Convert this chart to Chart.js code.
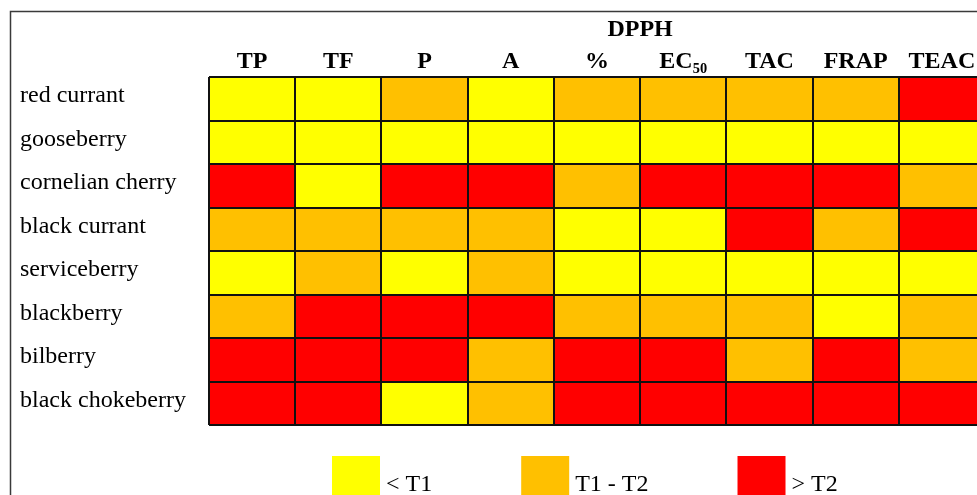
<!DOCTYPE html>
<html>
<head>
<meta charset="utf-8">
<title>Sample heatmap</title>
<script src="https://cdn.jsdelivr.net/npm/chart.js@4.4.1/dist/chart.umd.min.js"></script>
<style>
    html, body { margin: 0; padding: 0; background: #fff; overflow: hidden; }
    canvas { display: block; }
</style>
</head>
<body>
<canvas id="heatChart" width="1000" height="495"></canvas>
<script>
// samples (rows) and measured parameters (columns)
const samples = ['red currant', 'gooseberry', 'cornelian cherry', 'black currant',
    'serviceberry', 'blackberry', 'bilberry', 'black chokeberry'];
const measures = ['TP', 'TF', 'P', 'A', '%', 'EC\u2085\u2080', 'TAC', 'FRAP', 'TEAC'];

// 1 = < T1, 2 = T1 - T2, 3 = > T2
const levelRows = [
    [1, 1, 2, 1, 2, 2, 2, 2, 3], // red currant
    [1, 1, 1, 1, 1, 1, 1, 1, 1], // gooseberry
    [3, 1, 3, 3, 2, 3, 3, 3, 2], // cornelian cherry
    [2, 2, 2, 2, 1, 1, 3, 2, 3], // black currant
    [1, 2, 1, 2, 1, 1, 1, 1, 1], // serviceberry
    [2, 3, 3, 3, 2, 2, 2, 1, 2], // blackberry
    [3, 3, 3, 2, 3, 3, 2, 3, 2], // bilberry
    [3, 3, 1, 2, 3, 3, 3, 3, 3]  // black chokeberry
];
const legendLabels = ['< T1', 'T1 - T2', '> T2'];
const groupTitle = 'DPPH';       // spans the '%' and 'EC50' columns
const groupColumns = [4, 5];

const levelColors = ['#FFFF00', '#FFC000', '#FF0000'];
const serif = "'Liberation Serif', 'Times New Roman', serif";

// one floating-bar dataset per row, coloured cell by cell
const datasets = samples.map((name, r) => ({
    label: name,
    data: levelRows[r].map(() => [r, r + 1]),
    backgroundColor: levelRows[r].map(l => levelColors[l - 1]),
    borderWidth: 0,
    yAxisID: 'v',
    grouped: false,
    barPercentage: 1,
    categoryPercentage: 1
}));

// outer frame, group title and legend
const decor = {
    id: 'decor',
    beforeDraw(chart) {
        const ctx = chart.ctx;
        ctx.save();
        ctx.strokeStyle = '#3a3a3a';
        ctx.lineWidth = 1.5;
        ctx.strokeRect(10.5, 11.5, 1200, 600);
        ctx.restore();
    },
    afterDraw(chart) {
        const ctx = chart.ctx;
        const x = chart.scales.x;
        ctx.save();
        ctx.fillStyle = '#000';
        ctx.font = 'bold 24px ' + serif;
        ctx.textAlign = 'center';
        ctx.textBaseline = 'alphabetic';
        const gx = (x.getPixelForTick(groupColumns[0]) + x.getPixelForTick(groupColumns[1])) / 2;
        ctx.fillText(groupTitle, gx, 36);

        // legend
        ctx.font = '24px ' + serif;
        ctx.textAlign = 'left';
        let lx = 332;
        legendLabels.forEach((txt, i) => {
            ctx.fillStyle = levelColors[i];
            ctx.fillRect(lx, 456, 48, 50);
            ctx.fillStyle = '#000';
            ctx.fillText(txt, lx + 54, 491);
            lx += 54 + ctx.measureText(txt).width + 89;
        });
        ctx.restore();
    }
};

const heatChart = new Chart(document.getElementById('heatChart'), {
    type: 'bar',
    data: {
        labels: measures,
        datasets: datasets
    },
    options: {
        responsive: false,
        animation: false,
        devicePixelRatio: 1,
        layout: {
            padding: { left: 20, right: 15, top: 0, bottom: 70 }
        },
        plugins: {
            legend: { display: false },
            tooltip: { enabled: false },
            title: { display: false }
        },
        scales: {
            x: {
                type: 'category',
                position: 'top',
                offset: true,
                grid: { offset: true, color: '#111', lineWidth: 2, drawTicks: false, z: 1 },
                border: { display: false },
                ticks: {
                    color: '#000',
                    font: { family: serif, size: 24, weight: 'bold' },
                    padding: 1,
                    maxRotation: 0,
                    autoSkip: false
                },
                afterFit(scale) { scale.height = 77; }
            },
            v: {
                type: 'linear',
                position: 'left',
                reverse: true,
                min: 0,
                max: samples.length,
                grid: { color: '#111', lineWidth: 2, drawTicks: false, z: 1 },
                border: { display: false },
                ticks: { display: false, stepSize: 1 },
                afterFit(scale) { scale.width = 0; }
            },
            rows: {
                type: 'category',
                position: 'left',
                labels: samples,
                offset: true,
                grid: { display: false, drawTicks: false },
                border: { display: false },
                ticks: {
                    color: '#000',
                    font: { family: serif, size: 24 },
                    crossAlign: 'far',
                    labelOffset: -3,
                    autoSkip: false
                },
                afterFit(scale) { scale.width = 189; }
            }
        }
    },
    plugins: [decor]
});
</script>
</body>
</html>
